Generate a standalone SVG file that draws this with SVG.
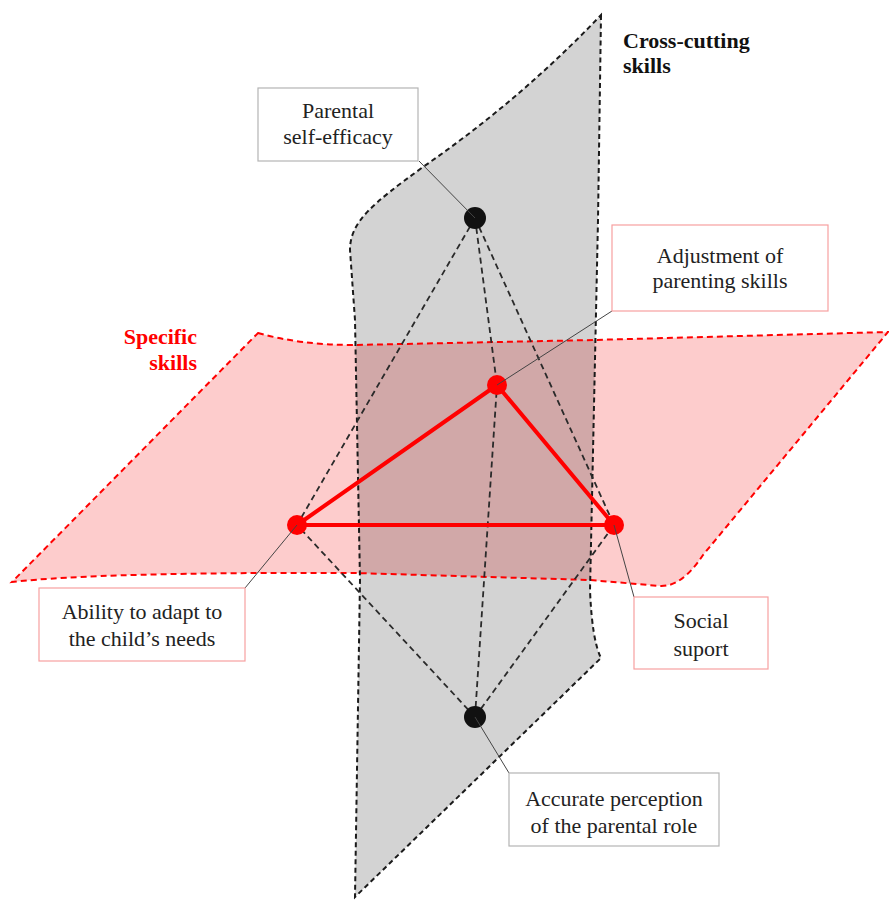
<svg xmlns="http://www.w3.org/2000/svg" width="889" height="901" viewBox="0 0 889 901">
<style>
.plane-red{fill:#fb9a9a;fill-opacity:0.5;stroke:none}
.plane-gray{fill:#000;fill-opacity:0.173;stroke:none}
.edge-red{fill:none;stroke:#f00;stroke-width:2;stroke-dasharray:6 4}
.edge-gray{fill:none;stroke:#1a1a1a;stroke-width:2;stroke-dasharray:5 3.5}
.dash{fill:none;stroke:#2a2a2a;stroke-width:1.8;stroke-dasharray:6 4}
.tri{fill:none;stroke:#f00;stroke-width:4;stroke-linejoin:round}
.lead{stroke:#444;stroke-width:1;fill:none}
.box-g{fill:#fff;stroke:#b4b4b4;stroke-width:1.2}
.box-r{fill:#fff;stroke:#f7a0a0;stroke-width:1.2}
.lbl{font-family:"Liberation Serif","Times New Roman",serif;font-size:22px;fill:#222;text-anchor:middle}
.title{font-family:"Liberation Serif","Times New Roman",serif;font-size:22px;font-weight:bold}
.nb{fill:#111}
.nr{fill:#f00}
</style>
<g id="planes">
  <path id="specific-plane" class="plane-red" d="M258,333 Q300,345 355,345 L593,340 L888,332 L703,555 Q682,587 660,586 L590,580 L355,573 Q100,572 12,582 Z"/>
  <path id="crosscutting-plane" class="plane-gray" d="M601,15 L598,220 L590,590 Q592,640 601,658 L355,897 L360,580 L355,320 L350,250 C350,222 372,204 423,167 Q520,100 601,15 Z"/>
  <path class="edge-red" d="M258,333 Q300,345 355,345 L593,340 L888,332 L703,555 Q682,587 660,586 L590,580 L355,573 Q100,572 12,582 Z"/>
  <path class="edge-gray" d="M601,15 L598,220 L590,590 Q592,640 601,658 L355,897 L360,580 L355,320 L350,250 C350,222 372,204 423,167 Q520,100 601,15 Z"/>
</g>
<g id="connectors">
  <line class="dash" x1="475" y1="218" x2="297" y2="525"/>
  <line class="dash" x1="475" y1="218" x2="497" y2="385"/>
  <line class="dash" x1="475" y1="218" x2="614" y2="525"/>
  <line class="dash" x1="475" y1="717" x2="297" y2="525"/>
  <line class="dash" x1="475" y1="717" x2="497" y2="385"/>
  <line class="dash" x1="475" y1="717" x2="614" y2="525"/>
  <polygon class="tri" points="497,385 297,525 614,525"/>
</g>
<g id="node-self-efficacy">
  <circle class="nb" cx="475" cy="218" r="11"/>
  <line class="lead" x1="419" y1="161" x2="475" y2="218"/>
  <rect class="box-g" x="258" y="88" width="160" height="73"/>
  <text class="lbl" x="338" y="118">Parental</text>
  <text class="lbl" x="338" y="144">self-efficacy</text>
</g>
<g id="node-adjustment">
  <circle class="nr" cx="497" cy="385" r="10"/>
  <line class="lead" x1="612" y1="311" x2="497" y2="385"/>
  <rect class="box-r" x="612" y="225" width="216" height="86"/>
  <text class="lbl" x="720" y="263">Adjustment of</text>
  <text class="lbl" x="720" y="288">parenting skills</text>
</g>
<g id="node-ability">
  <circle class="nr" cx="297" cy="525" r="10"/>
  <line class="lead" x1="245" y1="588" x2="297" y2="525"/>
  <rect class="box-r" x="39" y="588" width="206" height="73"/>
  <text class="lbl" x="142" y="619">Ability to adapt to</text>
  <text class="lbl" x="142" y="646">the child’s needs</text>
</g>
<g id="node-social">
  <circle class="nr" cx="614" cy="525" r="10"/>
  <line class="lead" x1="634" y1="597" x2="614" y2="525"/>
  <rect class="box-r" x="634" y="597" width="134" height="72"/>
  <text class="lbl" x="701" y="628">Social</text>
  <text class="lbl" x="701" y="656">suport</text>
</g>
<g id="node-perception">
  <circle class="nb" cx="475" cy="717" r="11"/>
  <line class="lead" x1="509" y1="773" x2="475" y2="717"/>
  <rect class="box-g" x="509" y="773" width="210" height="73"/>
  <text class="lbl" x="614" y="806">Accurate perception</text>
  <text class="lbl" x="614" y="833">of the parental role</text>
</g>
<g id="plane-labels">
  <text class="title" x="623" y="48" fill="#111">Cross-cutting</text>
  <text class="title" x="623" y="73" fill="#111">skills</text>
  <text class="title" x="197" y="344" fill="#f00" text-anchor="end">Specific</text>
  <text class="title" x="197" y="370" fill="#f00" text-anchor="end">skills</text>
</g>
</svg>
